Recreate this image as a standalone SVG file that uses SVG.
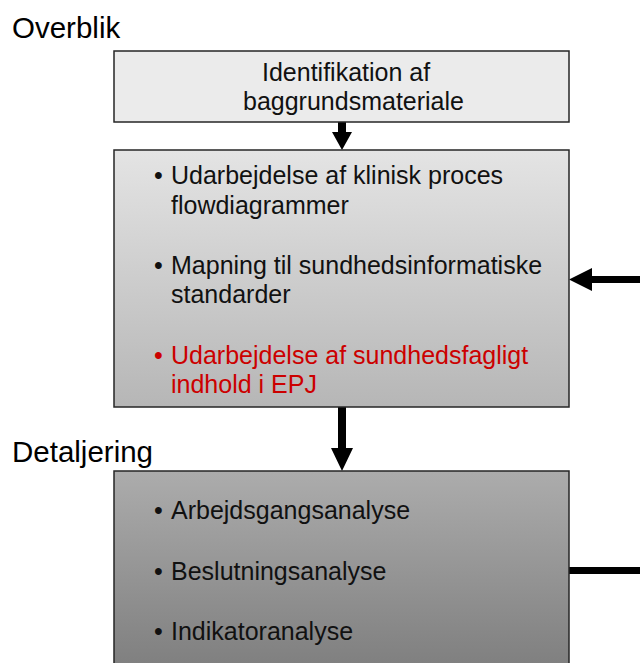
<svg xmlns="http://www.w3.org/2000/svg" width="640" height="663" viewBox="0 0 640 663">
  <defs>
    <linearGradient id="gMid" x1="0" y1="0" x2="0" y2="1">
      <stop offset="0" stop-color="#e4e4e4"/>
      <stop offset="1" stop-color="#b6b6b6"/>
    </linearGradient>
    <linearGradient id="gLow" x1="0" y1="0" x2="0" y2="1">
      <stop offset="0" stop-color="#acacac"/>
      <stop offset="1" stop-color="#7c7c7c"/>
    </linearGradient>
  </defs>
  <style>
    .box { stroke: #262626; stroke-width: 1.5; }
    .hdr { font-family: "Liberation Sans", Arial, sans-serif; font-size: 29.5px; fill: #000; }
    .txt { font-family: "Liberation Sans", Arial, sans-serif; font-size: 25px; fill: #111; }
    .red { fill: #cc0000; }
    .conn { fill: #000; }
  </style>

  <rect width="640" height="663" fill="#fff"/>

  <!-- section headings -->
  <text class="hdr" x="12" y="38">Overblik</text>
  <text class="hdr" x="12" y="462">Detaljering</text>

  <!-- connectors -->
  <g id="connectors">
    <!-- top box to middle box -->
    <polygon class="conn" points="338,122 346,122 346,132 352,132 342,150 332,132 338,132"/>
    <!-- middle box to lower box -->
    <polygon class="conn" points="338,407 346,407 346,448 353,448 342,471 331,448 338,448"/>
    <!-- return arrow into middle box -->
    <polygon class="conn" points="640,276 592,276 592,268 569,279.5 592,291 592,283 640,283"/>
    <!-- line out of lower box -->
    <rect class="conn" x="569" y="567" width="71" height="7"/>
  </g>

  <g id="node-identifikation">
    <rect class="box" x="114" y="51" width="455" height="71" fill="#ebebeb"/>
    <text class="txt" x="262" y="81">Identifikation af</text>
    <text class="txt" x="243" y="110">baggrundsmateriale</text>
  </g>

  <g id="node-overblik">
    <rect class="box" x="114" y="150" width="455" height="257" fill="url(#gMid)"/>
    <text class="txt" x="154" y="184">•</text>
    <text class="txt" x="171" y="184">Udarbejdelse af klinisk proces</text>
    <text class="txt" x="171" y="214">flowdiagrammer</text>
    <text class="txt" x="154" y="274">•</text>
    <text class="txt" x="171" y="274">Mapning til sundhedsinformatiske</text>
    <text class="txt" x="171" y="303">standarder</text>
    <text class="txt red" x="154" y="364">•</text>
    <text class="txt red" x="171" y="364">Udarbejdelse af sundhedsfagligt</text>
    <text class="txt red" x="171" y="393">indhold i EPJ</text>
  </g>

  <g id="node-detaljering">
    <rect class="box" x="114" y="471" width="455" height="210" fill="url(#gLow)"/>
    <text class="txt" x="154" y="519">•</text>
    <text class="txt" x="171" y="519">Arbejdsgangsanalyse</text>
    <text class="txt" x="154" y="580">•</text>
    <text class="txt" x="171" y="580">Beslutningsanalyse</text>
    <text class="txt" x="154" y="640">•</text>
    <text class="txt" x="171" y="640">Indikatoranalyse</text>
  </g>
</svg>
